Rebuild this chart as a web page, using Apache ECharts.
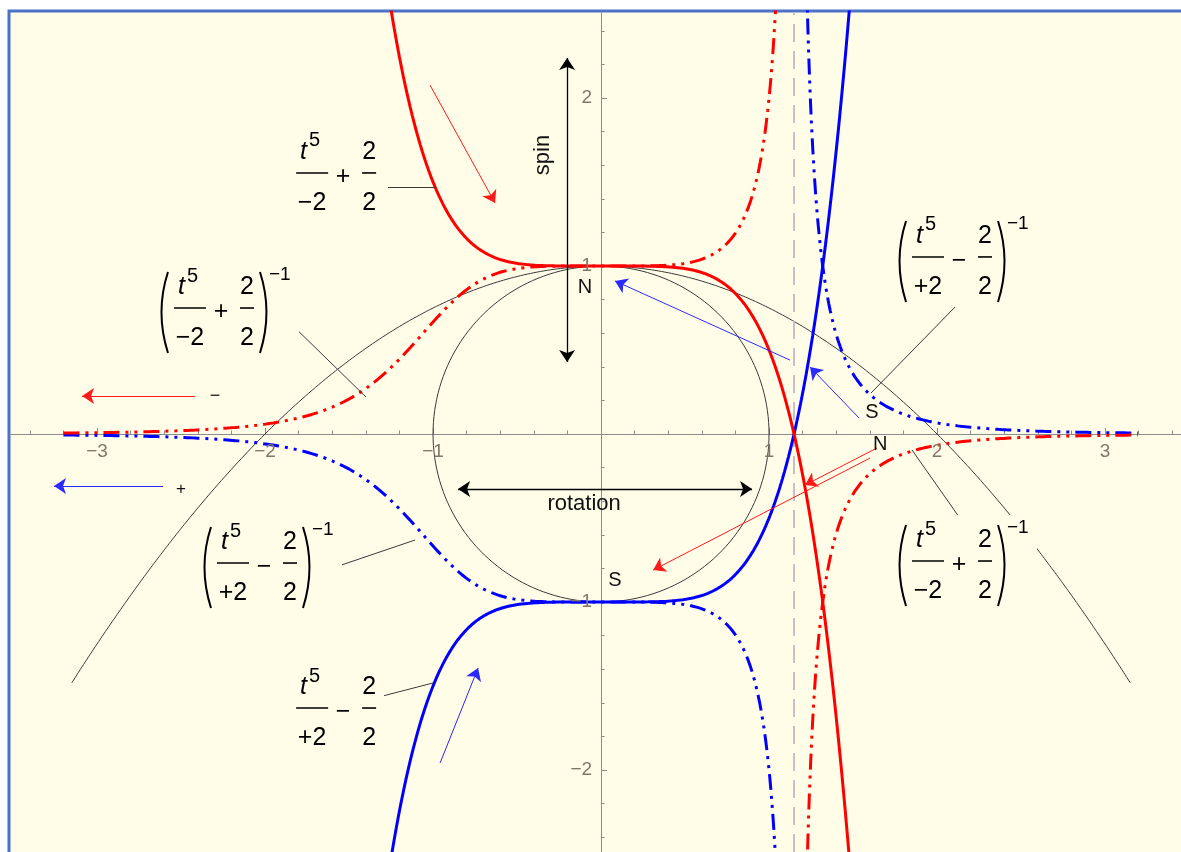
<!DOCTYPE html>
<html>
<head>
<meta charset="utf-8">
<script src="https://cdn.jsdelivr.net/npm/echarts@6/dist/echarts.min.js"></script>
<style>
  html, body { margin: 0; padding: 0; background: #ffffff; }
  #main { width: 1181px; height: 852px; }
</style>
</head>
<body>
<div id="main"></div>
<script>
// ---- Axis ticks ----
const xTickValues = [-3, -2, -1, 1, 2, 3];
const yTickValues = [-2, -1, 1, 2];
const xMinorTickValues = [-3.4, -3.2, -2.8, -2.6, -2.4, -2.2, -1.8, -1.6, -1.4, -1.2, -0.8, -0.6, -0.4, -0.2,
                          0.2, 0.4, 0.6, 0.8, 1.2, 1.4, 1.6, 1.8, 2.2, 2.4, 2.6, 2.8, 3.2, 3.4];
const yMinorTickValues = [-2.4, -2.2, -1.8, -1.6, -1.4, -1.2, -0.8, -0.6, -0.4, -0.2,
                          0.2, 0.4, 0.6, 0.8, 1.2, 1.4, 1.6, 1.8, 2.2, 2.4];

// ---- Visible window ----
const xRange = [-3.518, 3.452];
const yRange = [-2.488, 2.512];

// ---- Plotted domains ----
const rationalDomain = [-3.2, 3.2];
const parabolaDomain = [-3.15, 3.15];
const circleRadius = 1;

// ---- The plotted functions (as written in the formula labels) ----
const redSolidFn  = t => Math.pow(t, 5) / (-2) + 2 / 2;
const blueSolidFn = t => Math.pow(t, 5) / (+2) - 2 / 2;
const redRecipFn  = t => 1 / redSolidFn(t);
const blueRecipFn = t => 1 / blueSolidFn(t);
const parabolaFn  = t => 1 - t * t / 4;
const pole = Math.pow(2, 1 / 5);   // where t^5/2 = 1

const BG = '#fffde8';
const FONT = 'Liberation Sans';

function sampleFn(f, a, b, step, brk) {
  const out = [];
  const n = Math.round((b - a) / step);
  let crossed = brk == null;
  for (let i = 0; i <= n; i++) {
    const t = a + i * step;
    if (!crossed && t > brk) {
      out.push([brk - 1e-4, f(brk - 1e-4)]);
      out.push([brk, '-']);
      out.push([brk + 1e-4, f(brk + 1e-4)]);
      crossed = true;
    }
    out.push([t, f(t)]);
  }
  return out;
}

const redSolid  = sampleFn(redSolidFn, -1.6, 1.6, 0.004);
const blueSolid = sampleFn(blueSolidFn, -1.6, 1.6, 0.004);
const redRecip  = sampleFn(redRecipFn, rationalDomain[0], rationalDomain[1], 0.004, pole);
const blueRecip = sampleFn(blueRecipFn, rationalDomain[0], rationalDomain[1], 0.004, pole);
const parabola  = sampleFn(parabolaFn, parabolaDomain[0], parabolaDomain[1], 0.01);
const circle = [];
for (let d = 0; d <= 360; d += 2) {
  const a = d * Math.PI / 180;
  circle.push([circleRadius * Math.cos(a), circleRadius * Math.sin(a)]);
}

// ---- Annotations, in axis units ----
const redArrows = [
  [[-1.018, 2.077], [-0.631, 1.375]],
  [[-2.417, 0.226], [-3.089, 0.226]],
  [[1.643, -0.083], [1.214, -0.304]],
  [[1.601, -0.143], [0.310, -0.810]]
];
const blueArrows = [
  [[-2.607, -0.310], [-3.256, -0.310]],
  [[1.125, 0.440], [0.083, 0.911]],
  [[1.536, 0.095], [1.244, 0.399]],
  [[-0.958, -1.958], [-0.732, -1.393]]
];
const blackArrows = [
  [[-0.202, 0.429], [-0.202, 2.238]],
  [[-0.851, -0.327], [0.899, -0.327]]
];
const leaders = [
  [[-1.268, 1.470], [-0.988, 1.470]],
  [[-1.893, 0.702], [-1.399, 0.220]],
  [[2.119, 0.768], [1.607, 0.244]],
  [[2.131, -0.494], [1.851, -0.095]],
  [[-1.649, -0.815], [-1.107, -0.631]],
  [[-1.321, -1.565], [-1.000, -1.482]]
];
const formulaLabels = [
  { at: [-1.815, 1.554],  den: '\u22122', op: '+',      paren: false },
  { at: [-2.542, 0.750],  den: '\u22122', op: '+',      paren: true },
  { at: [1.851, 1.054],   den: '+2',      op: '\u2212', paren: true },
  { at: [1.851, -0.756],  den: '\u22122', op: '+',      paren: true },
  { at: [-2.286, -0.768], den: '+2',      op: '\u2212', paren: true },
  { at: [-1.815, -1.631], den: '+2',      op: '\u2212', paren: false }
];
const textNotes = [
  { text: 'spin',     at: [-0.345, 1.661],  size: 22, rotate: true },
  { text: 'rotation', at: [-0.101, -0.417], size: 22 },
  { text: 'N',        at: [-0.095, 0.875],  size: 20 },
  { text: 'S',        at: [0.083, -0.869],  size: 20 },
  { text: 'S',        at: [1.613, 0.131],   size: 20 },
  { text: 'N',        at: [1.661, -0.065],  size: 20 },
  { text: '\u2212',   at: [-2.298, 0.226],  size: 18 },
  { text: '+',        at: [-2.500, -0.327], size: 17 }
];

const AXIS_COLOR = '#8c8c8c';
const TICK_LABEL_COLOR = '#80776b';
const minusFmt = v => (v < 0 ? '\u2212' + (-v) : String(v));

const chart = echarts.init(document.getElementById('main'), null, { renderer: 'canvas' });

function lineSeries(data, color, width, type, z) {
  return {
    type: 'line', data, showSymbol: false, symbol: 'none', clip: true, animation: false,
    connectNulls: false, z: z || 2,
    lineStyle: { color, width, type: type || 'solid', cap: 'butt' }
  };
}
function linesSeries(list, color, width, symbols, size) {
  return {
    type: 'lines', coordinateSystem: 'cartesian2d', xAxisIndex: 0, yAxisIndex: 0,
    animation: false, z: 5, silent: true,
    symbol: symbols, symbolSize: size,
    lineStyle: { color, width, opacity: 1, curveness: 0 },
    itemStyle: { color },
    data: list.map(c => ({ coords: c }))
  };
}
function valueAxis(gridIndex, range, ticks, tickLen) {
  return {
    type: 'value', gridIndex, min: range[0], max: range[1],
    axisLine: { onZero: true, lineStyle: { color: AXIS_COLOR, width: 1 } },
    axisTick: { inside: true, length: tickLen, customValues: ticks, lineStyle: { color: AXIS_COLOR } },
    axisLabel: { show: false },
    splitLine: { show: false }
  };
}

const dashDotDot = [16, 6, 3, 6, 3, 6];
const gridBox = { left: 10, top: 12, right: 0, bottom: 0, containLabel: false, outerBoundsMode: 'none' };

chart.setOption({
  animation: false,
  backgroundColor: 'transparent',
  // grid 0 carries the curves and the integer ticks; grid 1 overlays it with the fine ticks
  grid: [Object.assign({}, gridBox), Object.assign({}, gridBox)],
  xAxis: [
    valueAxis(0, xRange, xTickValues, 6),
    valueAxis(1, xRange, xMinorTickValues, 3.5)
  ],
  yAxis: [
    valueAxis(0, yRange, yTickValues, 6),
    valueAxis(1, yRange, yMinorTickValues, 3.5)
  ],
  series: [
    lineSeries(parabola, '#3a3a3a', 1),
    lineSeries(circle, '#3a3a3a', 1),
    lineSeries([[pole, yRange[0]], [pole, yRange[1]]], '#c4b9c4', 1.8, [18, 9]),
    lineSeries(blueRecip, '#0000ff', 3, dashDotDot, 3),
    lineSeries(redRecip, '#ff0000', 3, dashDotDot, 3),
    lineSeries(blueSolid, '#0000ff', 3, 'solid', 4),
    lineSeries(redSolid, '#ff0000', 3, 'solid', 4),
    linesSeries(leaders, '#3a3a3a', 1, ['none', 'none'], 0),
    linesSeries(redArrows, '#ff1a1a', 1, ['none', 'arrow'], 12),
    linesSeries(blueArrows, '#2a2aff', 1, ['none', 'arrow'], 12),
    linesSeries(blackArrows, '#000000', 1.3, ['arrow', 'arrow'], 12)
  ]
});

// ---- Tick labels, formula labels and text notes, placed through the grid's coordinate system ----
const toPx = p => chart.convertToPixel({ gridIndex: 0 }, p);

function txt(s, x, y, size, extra) {
  return {
    type: 'text', x, y, z: 101, silent: true,
    style: Object.assign({ text: s, fontSize: size, fontFamily: FONT, fill: '#000',
                           align: 'center', verticalAlign: 'middle' }, extra || {})
  };
}
function formulaElements(spec) {
  const [L, B] = toPx(spec.at);
  const els = [];
  const left = spec.paren ? L - 22 : L - 20;
  const right = spec.paren ? L + 125 : L + 88;
  els.push({ type: 'rect', z: 100, silent: true,
             shape: { x: left, y: B - 46, width: right - left, height: 96 }, style: { fill: BG } });
  els.push(txt('t', L + 4, B - 21, 25, { fontStyle: 'italic', align: 'left' }));
  els.push(txt('5', L + 13, B - 32, 20, { align: 'left' }));
  els.push({ type: 'line', z: 101, silent: true, shape: { x1: L, y1: B, x2: L + 32, y2: B },
             style: { stroke: '#000', lineWidth: 1.6 } });
  els.push(txt(spec.den, L + 16, B + 30, 25));
  els.push(txt(spec.op, L + 47, B + 4, 25));
  els.push(txt('2', L + 73, B - 21, 25));
  els.push({ type: 'line', z: 101, silent: true, shape: { x1: L + 66, y1: B, x2: L + 80, y2: B },
             style: { stroke: '#000', lineWidth: 1.6 } });
  els.push(txt('2', L + 73, B + 30, 25));
  if (spec.paren) {
    els.push({ type: 'bezierCurve', z: 101, silent: true,
               shape: { x1: L - 6, y1: B - 36, cpx1: L - 19, cpy1: B + 4, x2: L - 6, y2: B + 45 },
               style: { stroke: '#000', lineWidth: 2, fill: null } });
    els.push({ type: 'bezierCurve', z: 101, silent: true,
               shape: { x1: L + 86, y1: B - 36, cpx1: L + 99, cpy1: B + 4, x2: L + 86, y2: B + 45 },
               style: { stroke: '#000', lineWidth: 2, fill: null } });
    els.push(txt('\u22121', L + 95, B - 33, 19, { align: 'left' }));
  }
  return els;
}

const graphicElements = [
  { type: 'rect', z: -100, silent: true,
    shape: { x: 9, y: 11, width: 1400, height: 1100 },
    style: { fill: BG, stroke: '#4a72c8', lineWidth: 3 } }
];
// tick labels next to the axes that cross at the origin
xTickValues.forEach(v => {
  const [x, y] = toPx([v, 0]);
  graphicElements.push(txt(minusFmt(v), x, y + 8, 19,
    { fill: TICK_LABEL_COLOR, verticalAlign: 'top' }));
});
yTickValues.forEach(v => {
  const [x, y] = toPx([0, v]);
  graphicElements.push(txt(minusFmt(v), x - 9, y, 19,
    { fill: TICK_LABEL_COLOR, align: 'right' }));
});
formulaLabels.forEach(spec => graphicElements.push(...formulaElements(spec)));
textNotes.forEach(n => {
  const [x, y] = toPx(n.at);
  const el = txt(n.text, x, y, n.size, { fill: '#111' });
  if (n.rotate) el.rotation = Math.PI / 2;
  graphicElements.push(el);
});

chart.setOption({ graphic: { elements: graphicElements } });
</script>
</body>
</html>
